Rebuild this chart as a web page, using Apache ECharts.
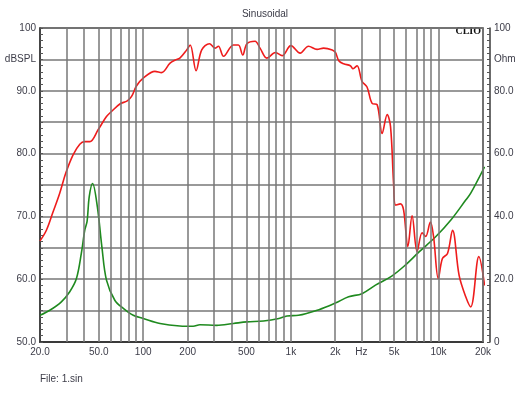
<!DOCTYPE html>
<html>
<head>
<meta charset="utf-8">
<script src="https://cdn.jsdelivr.net/npm/echarts@6/dist/echarts.min.js"></script>
<style>
  html, body { margin: 0; padding: 0; background: #fff; }
  #chart { width: 530px; height: 398px; }
</style>
</head>
<body>
<div id="chart"></div>
<script>
  // SPL curve (Hz / dBSPL)
  let splFreq = [20, 22.1, 24.5, 27.2, 29.9, 33.5, 37.2, 40.2, 43.5, 49.5, 56.4, 61, 69.5, 78, 83.4, 90.2,
    100, 120, 133, 152, 165, 177, 197, 208, 228, 249, 281, 306, 323, 350, 408, 441, 472, 504, 572, 618,
    688, 786, 872, 1000, 1156, 1316, 1504, 1665, 1906, 2004, 2110, 2278, 2528, 2635, 2808, 3032, 3278,
    3548, 3836, 4150, 4488, 4730, 4960, 5120, 5520, 5800, 6200, 6620, 7160, 7740, 8180, 8800, 9250,
    9960, 10620, 11500, 12440, 13780, 15280, 16520, 18740, 20500]
  let splValues = [66.1, 67.8, 70.7, 73.7, 76.9, 79.8, 81.5, 81.9, 81.9, 83.8, 85.9, 86.7, 87.9, 88.4, 89.1, 90.8,
    92.0, 93.1, 92.9, 94.4, 94.9, 95.2, 96.5, 97.3, 93.2, 96.5, 97.5, 96.8, 97.1, 95.5, 97.3, 97.3, 95.7, 97.5, 97.9, 96.8,
    95.2, 96.1, 95.6, 97.2, 96.0, 97.1, 96.6, 96.8, 96.5, 96.1, 94.8, 94.3, 94.0, 93.5, 94.0, 91.5, 90.6,
    88.0, 87.8, 83.2, 86.2, 84.3, 75.3, 71.8, 72.0, 71.0, 65.2, 70.1, 64.4, 67.4, 66.8, 69.1, 66.8,
    60.1, 63.3, 64.1, 67.8, 60.6, 57.2, 55.6, 63.6, 59.0]

  // impedance curve (Hz / Ohm)
  let ohmFreq = [20, 23.3, 27.9, 31.8, 35.3, 38.1, 40.2, 41.7, 43.1, 45.4, 48.9, 52.5, 56.4, 64.2, 73.3, 85.6,
    100, 130, 177, 218, 242, 314, 408, 504, 652, 830, 940, 1126, 1548, 2000, 2460, 3030, 3740, 4820,
    5960, 7380, 9560, 12200, 15280, 16520, 20500]
  let ohmValues = [8.5, 10.1, 12.8, 16.0, 20.2, 28.2, 35.6, 38.5, 46.3, 50.5, 43.1, 30.3, 19.7, 13.3, 10.7, 8.5,
    7.5, 5.9, 5.1, 5.0, 5.5, 5.3, 5.9, 6.4, 6.7, 7.5, 8.3, 8.5, 10.3, 12.4, 14.4, 15.4, 18.1, 21.0,
    24.5, 28.7, 33.5, 39.0, 45.2, 47.4, 55.8]

  let gridFreqs = [30, 40, 50, 60, 70, 80, 90, 100, 200, 300, 400, 500, 600, 700, 800, 900,
    1000, 2000, 3000, 4000, 5000, 6000, 7000, 8000, 9000, 10000, 20000]
  let xTickFreqs = [20, 50, 100, 200, 500, 1000, 2000, 3000, 5000, 10000, 20000]
  let xTickLabels = ['20.0', '50.0', '100', '200', '500', '1k', '2k', 'Hz', '5k', '10k', '20k']
  let leftLabels = { 100: '100', 95: 'dBSPL', 90: '90.0', 80: '80.0', 70: '70.0', 60: '60.0', 50: '50.0' }
  let rightLabels = { 100: '100', 90: 'Ohm', 80: '80.0', 60: '60.0', 40: '40.0', 20: '20.0', 0: '0' }

  let textColor = '#3c3c48'
  let fontFamily = 'Arial, "Liberation Sans", sans-serif'
  let lg = Math.log10

  let chart = echarts.init(document.getElementById('chart'))
  let option = {
    animation: false,
    title: {
      text: 'Sinusoidal',
      left: 'center',
      top: 4,
      textStyle: { fontSize: 10, fontWeight: 'normal', color: textColor, fontFamily: fontFamily }
    },
    graphic: [
      { type: 'text', right: 49, top: 26, style: { text: 'CLIO', fontSize: 10, fontWeight: 'bold', fontFamily: '"Liberation Serif", "DejaVu Serif", serif', fill: '#111' } },
      { type: 'text', left: 40, top: 374, style: { text: 'File: 1.sin', fontSize: 10, fontFamily: fontFamily, fill: textColor } }
    ],
    grid: {
      left: 40,
      right: 47,
      top: 28,
      bottom: 56,
      show: true,
      borderColor: '#3a3a3a',
      borderWidth: 1.5
    },
    xAxis: {
      type: 'value',
      min: lg(20),
      max: lg(20000),
      axisLine: { show: true, lineStyle: { color: '#3a3a3a', width: 2 } },
      axisTick: { show: false },
      splitLine: { show: false },
      axisLabel: {
        customValues: xTickFreqs.map(lg),
        margin: 5,
        fontSize: 10,
        color: textColor,
        fontFamily: fontFamily,
        formatter: function (v) {
          let idx = xTickFreqs.findIndex(f => Math.abs(lg(f) - v) < 1e-6)
          return idx >= 0 ? xTickLabels[idx] : ''
        }
      }
    },
    yAxis: [{
      type: 'value',
      min: 50,
      max: 100,
      interval: 5,
      axisLine: { show: true, lineStyle: { color: '#3a3a3a', width: 1.5 } },
      axisTick: { show: true, inside: true, length: 3, lineStyle: { color: '#555' } },
      minorTick: { show: true, splitNumber: 5, length: 3, lineStyle: { color: '#555' } },
      splitLine: { show: true, lineStyle: { color: '#777', width: 1.5 } },
      axisLabel: {
        margin: 4,
        fontSize: 10,
        color: textColor,
        fontFamily: fontFamily,
        formatter: v => leftLabels[v] || ''
      }
    }, {
      type: 'value',
      position: 'right',
      offset: 7,
      min: 0,
      max: 100,
      interval: 10,
      axisLine: { show: true, lineStyle: { color: '#3a3a3a', width: 1.5 } },
      axisTick: { show: true, inside: true, length: 3, lineStyle: { color: '#555' } },
      minorTick: { show: true, splitNumber: 5, length: 3, lineStyle: { color: '#555' } },
      splitLine: { show: false },
      axisLabel: {
        margin: 4,
        fontSize: 10,
        color: textColor,
        fontFamily: fontFamily,
        formatter: v => rightLabels[v] || ''
      }
    }],
    series: [{
      // vertical log grid
      type: 'line',
      data: [],
      silent: true,
      z: 1,
      markLine: {
        silent: true,
        symbol: 'none',
        label: { show: false },
        lineStyle: { color: '#777', width: 1.5, type: 'solid' },
        data: gridFreqs.map(f => ({ xAxis: lg(f) }))
      }
    }, {
      name: 'Ohm',
      type: 'line',
      yAxisIndex: 1,
      smooth: 0.35,
      showSymbol: false,
      clip: false,
      z: 3,
      lineStyle: { color: '#1f8a1f', width: 1.6 },
      data: ohmFreq.map((f, i) => [lg(f), ohmValues[i]])
    }, {
      name: 'dBSPL',
      type: 'line',
      yAxisIndex: 0,
      smooth: 0.35,
      showSymbol: false,
      clip: false,
      z: 4,
      lineStyle: { color: '#ee1c1c', width: 1.6 },
      data: splFreq.map((f, i) => [lg(f), splValues[i]])
    }]
  }
  chart.setOption(option)
</script>
</body>
</html>
